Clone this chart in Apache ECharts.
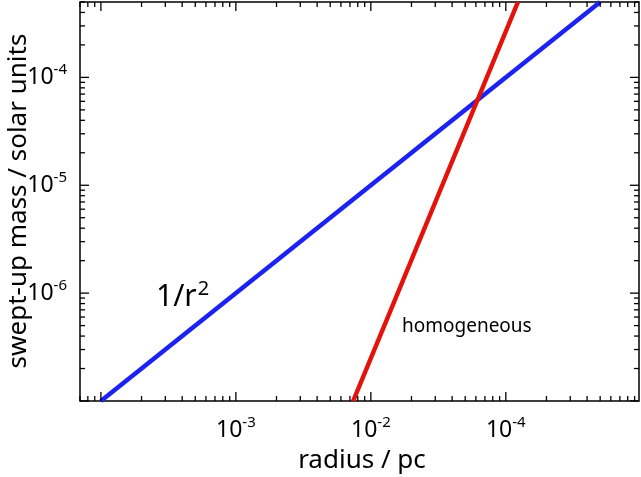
<!DOCTYPE html>
<html>
<head>
<meta charset="utf-8">
<script src="https://cdn.jsdelivr.net/npm/echarts@6/dist/echarts.min.js"></script>
<style>
  html, body { margin: 0; padding: 0; background: #fff; }
  #chart { width: 641px; height: 477px; }
</style>
</head>
<body>
<div id="chart"></div>
<script>
// axis ranges
const xRange = [7e-5, 0.97];
const yRange = [1e-7, 5e-4];

// labelled ticks: position exponent -> text shown as superscript
const xTickExps = [-3, -2, -1];
const xTickText = ['-3', '-2', '-4'];
const yTickExps = [-6, -5, -4];
const yTickText = ['-6', '-5', '-4'];

// decades for tick marks
const xDecades = [1e-5, 1e-4, 1e-3, 1e-2, 1e-1];
const yDecades = [1e-8, 1e-7, 1e-6, 1e-5, 1e-4];
const minorSteps = [2, 3, 4, 5, 6, 7, 8, 9];

// lines, [radius, mass]
const densR2 = [[1e-4, 1e-7], [0.5, 5e-4]];
const homogeneous = [[7.4e-3, 1e-7], [0.123, 5e-4]];

const FONT = 'Noto Sans';

function buildTicks(decades, range) {
  const out = [];
  decades.forEach(d => {
    out.push([d, 9]);
    minorSteps.forEach(m => out.push([d * m, 5]));
  });
  return out.filter(t => t[0] >= range[0] * 0.999 && t[0] <= range[1] * 1.001);
}

function labelFmt(exps, texts) {
  return function (v) {
    const l = Math.log10(v);
    const e = Math.round(l);
    if (Math.abs(l - e) > 0.01) return '';
    const i = exps.indexOf(e);
    return i < 0 ? '' : '{b|10}{s|' + texts[i] + '}';
  };
}

const richLbl = {
  b: { fontFamily: FONT, fontSize: 23, color: '#000' },
  s: { fontFamily: FONT, fontSize: 15, color: '#000', padding: [0, 0, 15, 0] }
};

const chart = echarts.init(document.getElementById('chart'));

const xTicks = buildTicks(xDecades, xRange).map(t => [t[0], yRange[0], t[1]]);
const yTicks = buildTicks(yDecades, yRange).map(t => [xRange[0], t[0], t[1]]);

const option = {
  animation: false,
  backgroundColor: '#fff',
  grid: {
    left: 80, right: 2, top: 2, bottom: 76,
    show: true, borderColor: '#000', borderWidth: 1.5,
    containLabel: false, outerBoundsMode: 'none'
  },
  xAxis: {
    type: 'log', logBase: 10,
    min: xRange[0], max: xRange[1],
    axisLine: { show: false },
    axisTick: { show: false },
    splitLine: { show: false },
    axisLabel: {
      margin: 14, fontFamily: FONT, fontSize: 23, color: '#000',
      formatter: labelFmt(xTickExps, xTickText), rich: richLbl
    }
  },
  yAxis: {
    type: 'log', logBase: 10,
    min: yRange[0], max: yRange[1],
    axisLine: { show: false },
    axisTick: { show: false },
    splitLine: { show: false },
    axisLabel: {
      margin: 13, fontFamily: FONT, fontSize: 23, color: '#000',
      formatter: labelFmt(yTickExps, yTickText), rich: richLbl
    }
  },
  graphic: [
    {
      type: 'text', x: 19, y: 201, rotation: Math.PI / 2,
      style: { text: 'swept-up mass / solar units', font: '26px "Noto Sans"', fill: '#000', align: 'center', verticalAlign: 'middle' }
    },
    {
      type: 'text', x: 362, y: 461,
      style: { text: 'radius / pc', font: '26px "Noto Sans"', fill: '#000', align: 'center', verticalAlign: 'middle' }
    },
    {
      type: 'text', x: 156, y: 297,
      style: {
        text: '{a|1/r}{s|2}', font: '30px "Noto Sans"', fill: '#000', align: 'left', verticalAlign: 'middle',
        rich: {
          a: { font: '30px "Noto Sans"', fill: '#000' },
          s: { font: '20px "Noto Sans"', fill: '#000', padding: [0, 0, 16, 1] }
        }
      }
    },
    {
      type: 'text', x: 402, y: 327,
      style: { text: 'homogeneous', font: '19px "Noto Sans"', fill: '#000', align: 'left', verticalAlign: 'middle' }
    }
  ],
  series: [
    {
      name: '1/r^2', type: 'line', data: densR2, symbol: 'none',
      lineStyle: { color: '#1c22f0', width: 4.5 }, z: 3
    },
    {
      name: 'homogeneous', type: 'line', data: homogeneous, symbol: 'none',
      lineStyle: { color: '#e3120b', width: 4.5 }, z: 3
    },
    {
      // x tick marks, bottom and top, pointing inward
      type: 'custom', data: xTicks, encode: { x: 0, y: 1 }, z: 5, silent: true,
      renderItem: (params, api) => {
        const p = api.coord([api.value(0), api.value(1)]);
        const cs = params.coordSys;
        const len = api.value(2);
        const st = { stroke: '#000', lineWidth: 1.3 };
        return {
          type: 'group', children: [
            { type: 'line', shape: { x1: p[0], y1: cs.y + cs.height, x2: p[0], y2: cs.y + cs.height - len }, style: st },
            { type: 'line', shape: { x1: p[0], y1: cs.y, x2: p[0], y2: cs.y + len }, style: st }
          ]
        };
      }
    },
    {
      // y tick marks, left and right
      type: 'custom', data: yTicks, encode: { x: 0, y: 1 }, z: 5, silent: true,
      renderItem: (params, api) => {
        const p = api.coord([api.value(0), api.value(1)]);
        const cs = params.coordSys;
        const len = api.value(2);
        const st = { stroke: '#000', lineWidth: 1.3 };
        return {
          type: 'group', children: [
            { type: 'line', shape: { x1: cs.x, y1: p[1], x2: cs.x + len, y2: p[1] }, style: st },
            { type: 'line', shape: { x1: cs.x + cs.width, y1: p[1], x2: cs.x + cs.width - len, y2: p[1] }, style: st }
          ]
        };
      }
    }
  ]
};

chart.setOption(option);
window.addEventListener('resize', () => chart.resize());
</script>
</body>
</html>
